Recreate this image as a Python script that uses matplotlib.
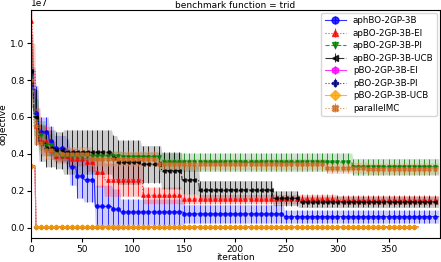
import numpy as np
import matplotlib
matplotlib.use('Agg')
import matplotlib.pyplot as plt

n_iter = 400
n_iter_pbo = 380

# change points (iteration, mean, std) in units of 1e7
aph_x = [0, 2, 5, 8, 18, 23, 35, 38, 45, 52, 63, 80, 88, 150, 248]
aph_y = [0.85, 0.75, 0.62, 0.52, 0.47, 0.43, 0.40, 0.33, 0.28, 0.26, 0.115, 0.10, 0.085, 0.075, 0.06]
aph_s = [0.12, 0.12, 0.15, 0.08, 0.08, 0.07, 0.08, 0.10, 0.12, 0.12, 0.115, 0.11, 0.07, 0.05, 0.035]

ei_x = [0, 2, 5, 10, 20, 25, 38, 55, 63, 72, 110, 148, 300]
ei_y = [1.12, 0.85, 0.55, 0.47, 0.42, 0.39, 0.375, 0.355, 0.30, 0.26, 0.175, 0.155, 0.15]
ei_s = [0.2, 0.15, 0.1, 0.08, 0.05, 0.04, 0.04, 0.05, 0.08, 0.09, 0.045, 0.025, 0.025]

pi_x = [0, 3, 8, 15, 22, 30, 90, 126, 315]
pi_y = [0.85, 0.6, 0.5, 0.45, 0.40, 0.39, 0.385, 0.355, 0.33]
pi_s = [0.15, 0.1, 0.08, 0.06, 0.03, 0.025, 0.025, 0.05, 0.045]

ucb_x = [0, 3, 8, 15, 25, 32, 80, 85, 108, 128, 148, 165, 237, 262]
ucb_y = [0.85, 0.6, 0.46, 0.43, 0.42, 0.41, 0.38, 0.355, 0.345, 0.31, 0.26, 0.205, 0.16, 0.14]
ucb_s = [0.2, 0.15, 0.1, 0.1, 0.1, 0.12, 0.12, 0.12, 0.1, 0.1, 0.08, 0.05, 0.04, 0.03]

pbo_x = [0, 5]
pbo_y = [0.335, 0.005]
pbo_s = [0.0, 0.002]

mc_x = [0, 3, 8, 15, 22, 60, 125, 290, 330]
mc_y = [0.8, 0.55, 0.46, 0.42, 0.40, 0.375, 0.345, 0.325, 0.32]
mc_s = [0.15, 0.1, 0.06, 0.05, 0.04, 0.04, 0.03, 0.03, 0.03]


def expand(xs, vals, n):
    idx = np.searchsorted(xs, np.arange(n), side='right') - 1
    return np.array(vals)[idx] * 1e7


series = [
    ('aphBO-2GP-3B', aph_x, aph_y, aph_s, n_iter, 'blue', 'o', '-'),
    ('apBO-2GP-3B-EI', ei_x, ei_y, ei_s, n_iter, 'red', '^', ':'),
    ('apBO-2GP-3B-PI', pi_x, pi_y, pi_s, n_iter, 'green', 'v', '--'),
    ('apBO-2GP-3B-UCB', ucb_x, ucb_y, ucb_s, n_iter, 'black', '<', '-.'),
    ('pBO-2GP-3B-EI', pbo_x, pbo_y, pbo_s, n_iter_pbo, 'magenta', 'h', '-'),
    ('pBO-2GP-3B-PI', pbo_x, pbo_y, pbo_s, n_iter_pbo, 'navy', 'P', ':'),
    ('pBO-2GP-3B-UCB', pbo_x, pbo_y, pbo_s, n_iter_pbo, 'orange', 'D', '-'),
    ('parallelMC', mc_x, mc_y, mc_s, n_iter, 'chocolate', 'X', ':'),
]

fs = 6.5
fig, ax = plt.subplots(figsize=(4.41, 2.62), dpi=100)
fig.subplots_adjust(left=0.07, right=0.997, top=0.962, bottom=0.09)

for name, xs, ys, ss, n, col, mk, ls in series:
    it = np.arange(n)
    mean = expand(xs, ys, n)
    std = expand(xs, ss, n)
    ax.fill_between(it, mean - std, mean + std, color=col, alpha=0.2, lw=0)
    ax.errorbar(it, mean, yerr=std, color=col, marker=mk, ls=ls, lw=0.8,
                ms=2.5, markevery=5, errorevery=5, elinewidth=0.7, alpha=0.8,
                label=name)

ax.set_xlim(0, 400)
ax.set_ylim(-0.058e7, 1.18e7)
ax.set_xticks([0, 50, 100, 150, 200, 250, 300, 350])
ax.set_yticks([0.0, 0.2e7, 0.4e7, 0.6e7, 0.8e7, 1.0e7])
ax.tick_params(labelsize=fs, pad=1.5, length=3)
ax.yaxis.get_offset_text().set_fontsize(fs)
ax.set_xlabel('iteration', fontsize=fs, labelpad=-0.5)
ax.set_ylabel('objective', fontsize=fs)
ax.yaxis.set_label_coords(-0.056, 0.5)
ax.set_title('benchmark function = trid', fontsize=fs, pad=1.5)
ax.legend(loc='upper right', fontsize=6.3, markerscale=2.0, handlelength=2.4,
          labelspacing=0.4, borderaxespad=0.3)

fig.savefig('out.png', dpi=100)
